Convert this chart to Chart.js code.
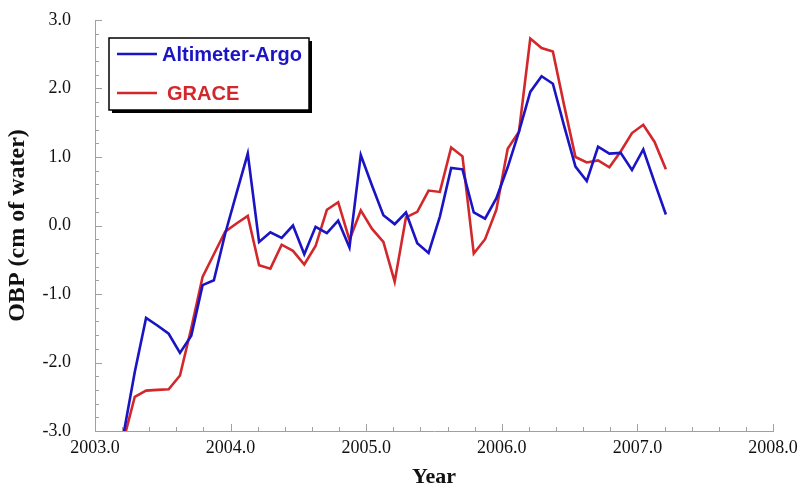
<!DOCTYPE html>
<html>
<head>
<meta charset="utf-8">
<script src="https://cdn.jsdelivr.net/npm/chart.js@4/dist/chart.umd.min.js"></script>
<style>
  html, body { margin: 0; padding: 0; background: #ffffff; }
  #wrap { width: 809px; height: 493px; position: relative; }
</style>
</head>
<body>
<div id="wrap"><canvas id="c" width="809" height="493"></canvas></div>
<script>
// ---- data (monthly) ----
const startYear = 2003.21;           // first monthly sample (decimal year)
const seriesNames = ['Altimeter-Argo', 'GRACE'];
const altimeterArgo = [
  -3.05, -2.14, -1.35, -1.46, -1.58, -1.86, -1.61, -0.87, -0.80, -0.12,
   0.47,  1.05, -0.24, -0.10, -0.18,  0.00, -0.42, -0.02, -0.11,  0.07,
  -0.32,  1.03,  0.58,  0.15,  0.02,  0.19, -0.26, -0.40,  0.13,  0.84,
   0.82,  0.19,  0.10,  0.40,  0.85,  1.37,  1.95,  2.18,  2.07,  1.45,
   0.86,  0.65,  1.15,  1.05,  1.06,  0.81,  1.11,  0.63,  0.16
];
const grace = [
  -3.14, -2.50, -2.41, -2.40, -2.39, -2.19, -1.50, -0.75, -0.42, -0.09,
   0.03,  0.14, -0.58, -0.63, -0.28, -0.37, -0.57, -0.30,  0.23,  0.34,
  -0.21,  0.22, -0.05, -0.24, -0.82,  0.12,  0.20,  0.51,  0.49,  1.14,
   1.01, -0.41, -0.20,  0.23,  1.12,  1.37,  2.73,  2.59,  2.54,  1.75,
   1.00,  0.92,  0.95,  0.85,  1.08,  1.35,  1.47,  1.22,  0.82
];
const xTicks = [2003, 2004, 2005, 2006, 2007, 2008];
const yTicks = [-3, -2, -1, 0, 1, 2, 3];
const xTitle = 'Year';
const yTitle = 'OBP (cm of water)';

const BLUE = '#1a14c4';
const RED = '#d2282c';

const toPoints = arr => arr.map((v, i) => ({ x: startYear + i / 12, y: v }));

// inward tick marks drawn through the chart's own scales
const innerTicks = {
  id: 'innerTicks',
  afterDraw(chart) {
    const ctx = chart.ctx, a = chart.chartArea;
    const xs = chart.scales.x, ys = chart.scales.y;
    ctx.save();
    ctx.strokeStyle = '#a0a0a0';
    ctx.lineWidth = 1;
    ctx.beginPath();
    for (let k = 0; k <= 25; k++) {
      const v = xs.min + k * 0.2;
      const px = Math.round(xs.getPixelForValue(v)) + 0.5;
      const len = (k % 5 === 0) ? 7 : 4;
      ctx.moveTo(px, a.bottom); ctx.lineTo(px, a.bottom - len);
    }
    for (let k = 0; k <= 30; k++) {
      const v = ys.min + k * 0.2;
      const py = Math.round(ys.getPixelForValue(v)) + 0.5;
      const len = (k % 5 === 0) ? 7 : 4;
      ctx.moveTo(a.left, py); ctx.lineTo(a.left + len, py);
    }
    ctx.stroke();
    ctx.restore();
  }
};

// boxed legend with drop shadow, inside the plot
const boxLegend = {
  id: 'boxLegend',
  afterDraw(chart) {
    const ctx = chart.ctx;
    const bx = 109, by = 38, bw = 200, bh = 72;
    ctx.save();
    ctx.fillStyle = '#000';
    ctx.fillRect(bx + 3, by + 3, bw, bh);
    ctx.fillStyle = '#fff';
    ctx.fillRect(bx, by, bw, bh);
    ctx.strokeStyle = '#000';
    ctx.lineWidth = 1.5;
    ctx.strokeRect(bx, by, bw, bh);
    const rows = [{ y: 54, tx: 162 }, { y: 93, tx: 167 }];
    chart.data.datasets.forEach((ds, i) => {
      const r = rows[i];
      ctx.strokeStyle = ds.borderColor;
      ctx.lineWidth = 2.5;
      ctx.beginPath();
      ctx.moveTo(117, r.y); ctx.lineTo(157, r.y);
      ctx.stroke();
      ctx.fillStyle = ds.borderColor;
      ctx.font = 'bold 20px "Liberation Sans", Arial, sans-serif';
      ctx.textBaseline = 'middle';
      ctx.textAlign = 'left';
      ctx.fillText(ds.label, r.tx, r.y + 1);
    });
    ctx.restore();
  }
};

new Chart(document.getElementById('c'), {
  type: 'line',
  data: {
    datasets: [
      { label: seriesNames[0], data: toPoints(altimeterArgo), borderColor: BLUE,
        backgroundColor: BLUE, borderWidth: 2.6, pointRadius: 0, tension: 0, order: 1 },
      { label: seriesNames[1], data: toPoints(grace), borderColor: RED,
        backgroundColor: RED, borderWidth: 2.6, pointRadius: 0, tension: 0, order: 2 }
    ]
  },
  options: {
    responsive: false,
    animation: false,
    devicePixelRatio: 1,
    layout: { padding: { left: 0, right: 36, top: 20, bottom: 0 } },
    plugins: { legend: { display: false }, tooltip: { enabled: false } },
    scales: {
      x: {
        type: 'linear', min: 2003, max: 2008,
        afterBuildTicks: s => { s.ticks = xTicks.map(v => ({ value: v })); },
        afterFit: s => { s.height = 62; },
        grid: { display: false, drawTicks: false },
        border: { display: true, color: '#a0a0a0', width: 1 },
        ticks: {
          color: '#111', padding: 6, maxRotation: 0,
          font: { family: '"Liberation Serif", "Times New Roman", serif', size: 18 },
          callback: v => Number(v).toFixed(1)
        },
        title: {
          display: true, text: xTitle, color: '#111',
          font: { family: '"Liberation Serif", "Times New Roman", serif', size: 22, weight: 'bold' },
          padding: { top: 0, bottom: 2 }
        }
      },
      y: {
        type: 'linear', min: -3, max: 3,
        afterBuildTicks: s => { s.ticks = yTicks.map(v => ({ value: v })); },
        afterFit: s => { s.width = 95; s.paddingTop = 0; s.paddingBottom = 0; },
        grid: { display: false, drawTicks: false },
        border: { display: true, color: '#a0a0a0', width: 1 },
        ticks: {
          color: '#111', padding: 24,
          font: { family: '"Liberation Serif", "Times New Roman", serif', size: 18 },
          callback: v => Number(v).toFixed(1)
        },
        title: {
          display: true, text: yTitle, color: '#111',
          font: { family: '"Liberation Serif", "Times New Roman", serif', size: 24, weight: 'bold' },
          padding: { top: 3, bottom: 0 }
        }
      }
    }
  },
  plugins: [innerTicks, boxLegend]
});
</script>
</body>
</html>
